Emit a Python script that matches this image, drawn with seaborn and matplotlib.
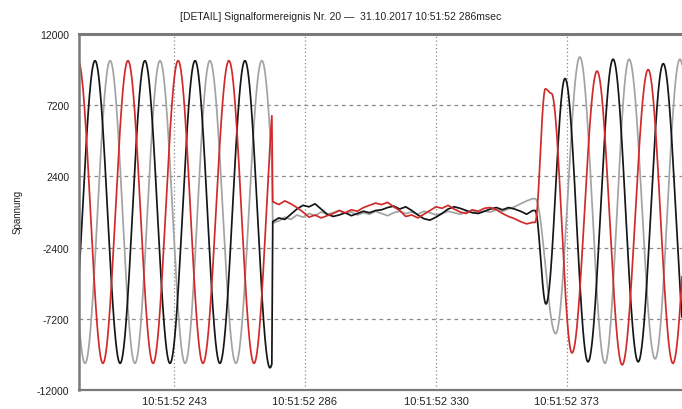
import numpy as np
import pandas as pd
import matplotlib
matplotlib.use("Agg")
import matplotlib.pyplot as plt
import seaborn as sns
from matplotlib.ticker import FixedLocator, MultipleLocator

# ---------------- data (time in ms after 10:51:52) -------------
title = "[DETAIL] Signalformereignis Nr. 20 \u2014  31.10.2017 10:51:52 286msec"
ylabel = "Spannung"
xtick_pos = [243.33, 286.67, 330.0, 373.33]
xtick_labels = ["10:51:52 243", "10:51:52 286", "10:51:52 330", "10:51:52 373"]
ytick_pos = [12000, 7200, 2400, -2400, -7200, -12000]
ytick_labels = ["12000", "7200", "2400", "-2400", "-7200", "-12000"]
xlim = (211.9, 411.4)
ylim = (-12000, 12000)

fault_start = 275.7
fault_end = 362.8

# pre-fault extrema (peaks / troughs) of each phase
red_pre_t = [203.3, 211.6, 219.8, 228.1, 236.4, 244.7, 252.9, 261.5, 269.8, 278.0]
red_pre_v = [-10200, 10200, -10200, 10200, -10200, 10200, -10200, 10200, -10200, 10200]
black_pre_t = [208.9, 217.2, 225.5, 233.7, 242.0, 250.3, 258.5, 266.8, 275.1, 283.4]
black_pre_v = [-10200, 10200, -10200, 10200, -10200, 10200, -10200, 10200, -10500, 10200]
gray_pre_t = [205.5, 213.9, 222.2, 230.4, 238.7, 247.0, 255.2, 263.8, 272.4, 280.7]
gray_pre_v = [10200, -10200, 10200, -10200, 10200, -10200, 10200, -10200, 10200, -10200]

# during the dip: samples every 2 ms from 276 to 362 ms
mid_t = list(range(276, 363, 2))
red_mid = [700, 500, 750, 550, 300, 0, -350, -200, -400, -250, -100, 100, -50, 150, 50,
           300, 450, 600, 500, 650, 350, 100, -300, -200, -400, -150, 100, 350, 250, 450,
           200, 0, -100, 150, 50, 250, 300, 150, -100, -300, -450, -650, -800, -700]
black_mid = [-650, -400, -500, -150, 200, 450, 350, 550, 200, -150, -300, -200, -50, -250,
             -100, 50, -50, 100, 150, 300, 400, 200, 350, 100, -200, -450, -550, -350, -100,
             200, 350, 250, 100, -50, -100, 50, 200, 300, 150, 300, 200, 50, -150, 100]
gray_mid = [-750, -600, -350, -500, -200, -350, -100, -250, 0, -150, -50, 100, -100, 0,
            -200, -50, -150, 50, -100, -250, -50, 50, -100, 0, -150, 50, -50, -200, -100,
            50, -50, -150, 0, 100, -50, 50, 0, 150, 50, 200, 350, 550, 750, 900]

# post-fault extrema
red_post_t = [362.8, 366.2, 368.2, 375.0, 383.3, 391.6, 400.2, 408.4, 416.6]
red_post_v = [-700, 8300, 8000, -9500, 9500, -10300, 9600, -10200, 9600]
black_post_t = [362.8, 366.4, 372.7, 380.3, 388.6, 396.9, 405.2, 413.5]
black_post_v = [100, -6200, 9000, -10100, 10300, -10100, 10000, -10100]
gray_post_t = [362.8, 369.6, 377.6, 385.9, 393.9, 402.5, 410.7, 419.0]
gray_post_v = [900, -8200, 10450, -10200, 10300, -9900, 10300, -10200]

colors = {"gray": "#a3a3a3", "black": "#151515", "red": "#d12a2a"}


def half_waves(tk, vk, t0, t1, step=0.05):
    tk = np.asarray(tk, float)
    vk = np.asarray(vk, float)
    t = np.arange(max(t0, tk[0]), min(t1, tk[-1]) + 1e-9, step)
    idx = np.clip(np.searchsorted(tk, t, side="right") - 1, 0, len(tk) - 2)
    f = (t - tk[idx]) / (tk[idx + 1] - tk[idx])
    v = vk[idx] + (vk[idx + 1] - vk[idx]) * (1 - np.cos(np.pi * f)) / 2
    return t, v


phases = {
    "gray": (gray_pre_t, gray_pre_v, gray_mid, gray_post_t, gray_post_v),
    "black": (black_pre_t, black_pre_v, black_mid, black_post_t, black_post_v),
    "red": (red_pre_t, red_pre_v, red_mid, red_post_t, red_post_v),
}

frames = []
for name, (pt, pv, mv, qt, qv) in phases.items():
    t1, v1 = half_waves(pt, pv, xlim[0] - 1, fault_start)
    t3, v3 = half_waves(qt, qv, fault_end, xlim[1] + 1)
    t = np.concatenate([t1, np.asarray(mid_t, float), t3])
    v = np.concatenate([v1, np.asarray(mv, float), v3])
    frames.append(pd.DataFrame({"t": t, "v": v, "phase": name}))
df = pd.concat(frames, ignore_index=True)

# ---------------- drawing ----------------
sns.set_style("white")
plt.rcParams["font.family"] = ["Liberation Sans", "DejaVu Sans"]

fig = plt.figure(figsize=(6.82, 4.10), dpi=100)
ax = fig.add_axes([79 / 682, 19 / 410, 1 - 79 / 682, (391 - 35) / 410])

sns.lineplot(data=df, x="t", y="v", hue="phase", palette=colors,
             hue_order=["gray", "black", "red"], estimator=None, sort=False,
             legend=False, linewidth=1.25, ax=ax)

ax.set_xlim(*xlim)
ax.set_ylim(*ylim)
ax.set_xlabel("")
ax.set_ylabel("")

ax.xaxis.set_major_locator(FixedLocator(xtick_pos))
ax.set_xticklabels(xtick_labels)
ax.xaxis.set_minor_locator(FixedLocator(
    [xtick_pos[0] + k * (xtick_pos[1] - xtick_pos[0]) / 4 for k in range(-4, 17)]))
ax.yaxis.set_major_locator(FixedLocator(ytick_pos))
ax.set_yticklabels(ytick_labels)
ax.yaxis.set_minor_locator(MultipleLocator(1200))

ax.tick_params(axis="x", which="major", direction="in", length=4, width=0.8,
               colors="#777777", labelcolor="#222222", labelsize=8, pad=4)
ax.tick_params(axis="x", which="minor", direction="in", length=3, width=0.8, colors="#777777")
ax.tick_params(axis="y", which="major", direction="out", length=5, width=0.8,
               colors="#777777", labelcolor="#222222", labelsize=7.5, pad=2)
ax.tick_params(axis="y", which="minor", direction="out", length=2.5, width=0.8, colors="#777777")

for yv in [7200, 2400, -2400, -7200]:
    ax.axhline(yv, color="#8a8a8a", lw=0.9, ls=(0, (3, 3)), zorder=0)
for xv in xtick_pos:
    ax.axvline(xv, color="#8a8a8a", lw=0.9, ls=(0, (1, 2)), zorder=0)

for side in ["top", "left", "bottom"]:
    ax.spines[side].set_visible(True)
    ax.spines[side].set_color("#7a7a7a")
ax.spines["top"].set_linewidth(2.2)
ax.spines["left"].set_linewidth(1.8)
ax.spines["bottom"].set_linewidth(1.6)
ax.spines["right"].set_visible(False)

fig.text(0.5, 1 - 17 / 410, title, ha="center", va="center", fontsize=7.5, color="#222222")
fig.text(18 / 682, 1 - 212 / 410, ylabel, ha="center", va="center", rotation=90,
         fontsize=7, color="#222222")

fig.savefig("out.png", dpi=100)
